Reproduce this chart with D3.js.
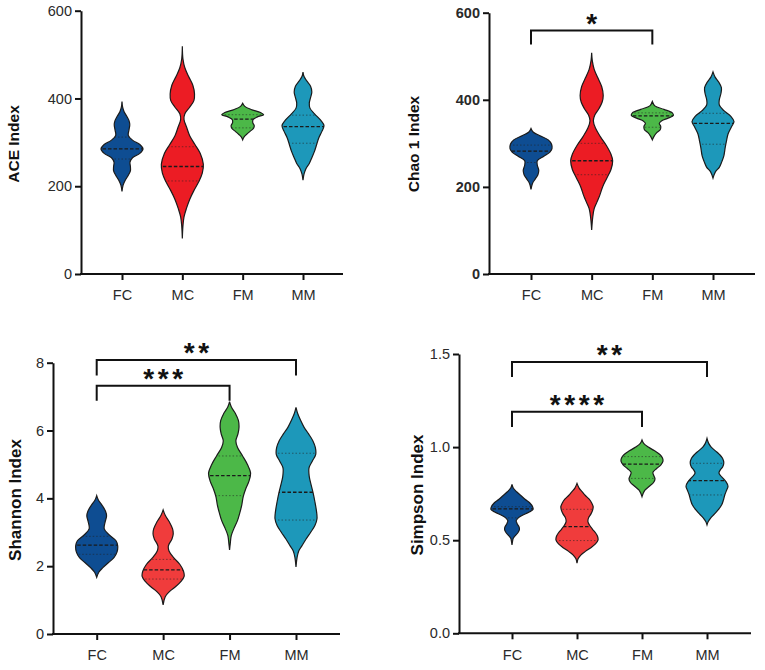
<!DOCTYPE html>
<html lang="en">
<head>
    <meta charset="UTF-8">
    <title>Alpha diversity violins</title>
    <style>
        body {
            margin: 0;
            padding: 0;
            background-color: #ffffff;
            font-family: "Liberation Sans", Arial, sans-serif;
        }
        .tick text {
            font-size: 14.5px;
            fill: #2a2a2a;
        }
        .axis-label {
            font-weight: bold;
            fill: #111;
            text-anchor: middle;
        }
        .star {
            font-weight: bold;
            font-size: 28px;
            fill: #111;
            text-anchor: middle;
        }
    </style>
</head>
<body>
    <div id="chart"></div>

    <script src="https://d3js.org/d3.v7.min.js"></script>
    <script>
        // groups and fill colours
        const categories = ["FC", "MC", "FM", "MM"];
        const colorsTop = ["#0e4d92", "#ec1c24", "#4cb848", "#1d98ba"];
        const colorsBottom = ["#0e4d92", "#f03c3c", "#4cb848", "#1d98ba"];

        // violin outlines: [value, relative half-width]
        const aceFC = [[393,0],[380,0.03],[370,0.1],[360,0.22],[350,0.33],[340,0.37],[328,0.33],[316,0.3],[305,0.5],[295,0.85],[285,1],[275,0.85],[265,0.5],[255,0.38],[245,0.4],[235,0.4],[225,0.3],[214,0.16],[202,0.05],[188,0]];
        const aceMC = [[519,0],[490,0.03],[470,0.12],[450,0.3],[430,0.5],[410,0.58],[395,0.55],[380,0.35],[365,0.12],[352,0.08],[335,0.2],[315,0.35],[295,0.6],[275,0.85],[250,1],[230,0.95],[210,0.78],[190,0.55],[170,0.35],[150,0.2],[130,0.08],[110,0.03],[81,0]];
        const aceFM = [[389,0],[382,0.1],[375,0.4],[368,0.85],[363,1],[358,0.7],[352,0.5],[345,0.48],[338,0.55],[332,0.52],[325,0.35],[318,0.18],[312,0.06],[306,0]];
        const aceMM = [[460,0],[450,0.05],[440,0.18],[428,0.36],[415,0.42],[402,0.36],[390,0.3],[378,0.33],[365,0.55],[350,0.85],[338,1],[325,0.9],[310,0.75],[295,0.65],[280,0.55],[265,0.42],[252,0.3],[240,0.14],[228,0.05],[214,0]];

        const chaoFC = [[334,0],[326,0.1],[318,0.4],[308,0.82],[298,0.98],[288,1],[280,0.9],[270,0.6],[260,0.3],[250,0.3],[238,0.37],[228,0.33],[218,0.2],[208,0.07],[194,0]];
        const chaoMC = [[508,0],[490,0.03],[470,0.12],[450,0.3],[430,0.48],[410,0.55],[395,0.5],[380,0.35],[365,0.15],[352,0.08],[335,0.18],[315,0.42],[295,0.7],[275,0.92],[260,1],[240,0.92],[220,0.72],[200,0.52],[180,0.38],[165,0.25],[150,0.12],[130,0.05],[101,0]];
        const chaoFM = [[396,0],[386,0.12],[378,0.55],[370,0.95],[364,1],[358,0.75],[352,0.45],[346,0.33],[339,0.4],[332,0.38],[325,0.22],[316,0.08],[308,0]];
        const chaoMM = [[464,0],[452,0.1],[440,0.28],[428,0.4],[415,0.38],[400,0.3],[388,0.3],[375,0.52],[362,0.85],[350,1],[338,0.88],[322,0.72],[305,0.64],[290,0.58],[272,0.52],[258,0.42],[245,0.3],[235,0.12],[220,0]];

        const shanFC = [[4.08,0],[3.95,0.08],[3.8,0.25],[3.62,0.42],[3.48,0.47],[3.3,0.4],[3.1,0.36],[2.92,0.6],[2.75,0.92],[2.6,1],[2.42,0.97],[2.25,0.82],[2.1,0.55],[1.95,0.28],[1.82,0.1],[1.67,0]];
        const shanMC = [[3.66,0],[3.5,0.1],[3.3,0.3],[3.1,0.45],[2.95,0.48],[2.8,0.42],[2.6,0.25],[2.45,0.28],[2.25,0.5],[2.05,0.8],[1.85,0.97],[1.7,1],[1.55,0.85],[1.4,0.6],[1.25,0.3],[1.1,0.1],[0.86,0]];
        const shanFM = [[6.85,0],[6.7,0.08],[6.5,0.28],[6.3,0.42],[6.1,0.45],[5.9,0.4],[5.7,0.3],[5.5,0.38],[5.25,0.62],[5.0,0.85],[4.75,1],[4.5,0.92],[4.3,0.78],[4.05,0.65],[3.8,0.58],[3.6,0.5],[3.35,0.38],[3.1,0.2],[2.9,0.08],[2.65,0.03],[2.48,0]];
        const shanMM = [[6.68,0],[6.5,0.08],[6.3,0.22],[6.1,0.38],[5.9,0.6],[5.7,0.8],[5.5,0.92],[5.3,0.94],[5.1,0.78],[4.9,0.62],[4.65,0.63],[4.4,0.72],[4.15,0.82],[3.9,0.9],[3.6,0.98],[3.4,1],[3.2,0.9],[3.0,0.7],[2.8,0.48],[2.6,0.28],[2.45,0.13],[2.25,0.05],[1.98,0]];

        const simpFC = [[0.80,0],[0.78,0.06],[0.76,0.22],[0.74,0.42],[0.72,0.62],[0.70,0.85],[0.68,0.98],[0.665,1],[0.65,0.8],[0.635,0.52],[0.62,0.3],[0.605,0.2],[0.59,0.24],[0.57,0.34],[0.555,0.35],[0.54,0.28],[0.525,0.16],[0.51,0.06],[0.49,0.02],[0.475,0]];
        const simpMC = [[0.805,0],[0.78,0.1],[0.76,0.25],[0.74,0.4],[0.72,0.58],[0.70,0.7],[0.68,0.77],[0.66,0.74],[0.64,0.66],[0.62,0.55],[0.60,0.52],[0.58,0.6],[0.56,0.73],[0.54,0.88],[0.52,0.98],[0.50,1],[0.48,0.88],[0.46,0.66],[0.44,0.4],[0.42,0.18],[0.40,0.05],[0.376,0]];
        const simpFM = [[1.038,0],[1.02,0.08],[1.0,0.3],[0.98,0.6],[0.96,0.85],[0.94,0.98],[0.925,1],[0.905,0.9],[0.885,0.7],[0.865,0.52],[0.85,0.55],[0.83,0.62],[0.81,0.55],[0.79,0.35],[0.77,0.15],[0.75,0.05],[0.734,0]];
        const simpMM = [[1.047,0],[1.02,0.08],[1.0,0.2],[0.98,0.4],[0.96,0.6],[0.94,0.74],[0.915,0.8],[0.895,0.75],[0.875,0.62],[0.86,0.57],[0.84,0.7],[0.815,0.9],[0.79,1],[0.765,0.92],[0.74,0.84],[0.715,0.78],[0.69,0.7],[0.665,0.55],[0.64,0.35],[0.62,0.18],[0.6,0.06],[0.582,0]];

        // medians and quartiles per group (FC, MC, FM, MM)
        const aceMedian = [285, 245, 353, 336];
        const aceQ1 = [262, 212, 333, 298];
        const aceQ3 = [312, 290, 363, 362];
        const chaoMedian = [282, 260, 363, 346];
        const chaoQ1 = [256, 228, 337, 298];
        const chaoQ3 = [296, 300, 370, 369];
        const shanMedian = [2.62, 1.89, 4.67, 4.18];
        const shanQ1 = [2.35, 1.62, 4.08, 3.36];
        const shanQ3 = [2.88, 2.2, 5.25, 5.33];
        const simpMedian = [0.668, 0.573, 0.909, 0.82];
        const simpQ1 = [0.62, 0.498, 0.832, 0.743];
        const simpQ3 = [0.68, 0.666, 0.949, 0.913];

        // tick values
        const aceTicks = [0, 200, 400, 600];
        const chaoTicks = [0, 200, 400, 600];
        const shanTicks = [0, 2, 4, 6, 8];
        const simpTicks = [0, 0.5, 1.0, 1.5];

        // significance brackets: [from, to, bar value, drop value, stars]
        const chaoBrackets = [["FC", "FM", 559, 527, "*"]];
        const shanBrackets = [["FC", "MM", 8.08, 7.62, "**"], ["FC", "FM", 7.32, 6.88, "***"]];
        const simpBrackets = [["FC", "MM", 1.457, 1.377, "**"], ["FC", "FM", 1.19, 1.108, "****"]];

        const panels = [
            { label: "ACE Index", profiles: [aceFC, aceMC, aceFM, aceMM], med: aceMedian, q1: aceQ1, q3: aceQ3,
              ticks: aceTicks, fmt: d3.format("d"), max: 600, brackets: [], colors: colorsTop, boldTicks: false,
              axisX: 81, xEnd: 343, xFirst: 122, xLast: 303, y0: 274, yTop: 10.7, labelX: 13.5, labelY: 144, labelSize: 15.5 },
            { label: "Chao 1 Index", profiles: [chaoFC, chaoMC, chaoFM, chaoMM], med: chaoMedian, q1: chaoQ1, q3: chaoQ3,
              ticks: chaoTicks, fmt: d3.format("d"), max: 600, brackets: chaoBrackets, colors: colorsTop, boldTicks: true,
              axisX: 489, xEnd: 755, xFirst: 531, xLast: 713, y0: 274, yTop: 12.7, labelX: 413.5, labelY: 144, labelSize: 15.5 },
            { label: "Shannon Index", profiles: [shanFC, shanMC, shanFM, shanMM], med: shanMedian, q1: shanQ1, q3: shanQ3,
              ticks: shanTicks, fmt: d3.format("d"), max: 8, brackets: shanBrackets, colors: colorsBottom, boldTicks: false,
              axisX: 53, xEnd: 340, xFirst: 96.7, xLast: 296, y0: 634, yTop: 362.7, labelX: 15.5, labelY: 500, labelSize: 17 },
            { label: "Simpson Index", profiles: [simpFC, simpMC, simpFM, simpMM], med: simpMedian, q1: simpQ1, q3: simpQ3,
              ticks: simpTicks, fmt: d3.format(".1f"), max: 1.5, brackets: simpBrackets, colors: colorsBottom, boldTicks: false,
              axisX: 459, xEnd: 751, xFirst: 512, xLast: 707, y0: 633.3, yTop: 354, labelX: 417, labelY: 495, labelSize: 17 }
        ];

        const svg = d3.select("#chart")
            .append("svg")
            .attr("width", 765)
            .attr("height", 670);

        const halfWidth = d3.scaleLinear().domain([0, 1]).range([0, 21]);

        panels.forEach((p, pi) => {
            const g = svg.append("g");
            const y = d3.scaleLinear().domain([0, p.max]).range([p.y0, p.yTop]);
            const x = d3.scalePoint().domain(categories).range([p.xFirst, p.xLast]);

            // violins
            p.profiles.forEach((prof, i) => {
                const cx = x(categories[i]);
                const area = d3.area()
                    .y(d => y(d[0]))
                    .x0(d => cx - halfWidth(d[1]))
                    .x1(d => cx + halfWidth(d[1]))
                    .curve(d3.curveCatmullRom.alpha(0.5));
                const clipId = `clip-${pi}-${i}`;
                g.append("clipPath").attr("id", clipId)
                    .append("path").attr("d", area(prof));

                g.append("path")
                    .attr("d", area(prof))
                    .attr("fill", p.colors[i])
                    .attr("stroke", "#1b1b1b")
                    .attr("stroke-width", 1.2);

                const lines = g.append("g").attr("clip-path", `url(#${clipId})`);
                [p.q1[i], p.q3[i]].forEach(v => {
                    lines.append("line")
                        .attr("x1", cx - 25).attr("x2", cx + 25)
                        .attr("y1", y(v)).attr("y2", y(v))
                        .attr("stroke", "#222").attr("stroke-opacity", 0.55)
                        .attr("stroke-width", 1).attr("stroke-dasharray", "1.5,2");
                });
                lines.append("line")
                    .attr("x1", cx - 25).attr("x2", cx + 25)
                    .attr("y1", y(p.med[i])).attr("y2", y(p.med[i]))
                    .attr("stroke", "#1a1a1a").attr("stroke-width", 1.3)
                    .attr("stroke-dasharray", "3.5,2");
            });

            // y axis
            const yAxis = g.append("g")
                .attr("transform", `translate(${p.axisX},0)`)
                .call(d3.axisLeft(y).tickValues(p.ticks).tickFormat(p.fmt)
                    .tickSize(6).tickSizeOuter(0).tickPadding(3));
            yAxis.select(".domain").attr("stroke", "#111").attr("stroke-width", 2);
            yAxis.selectAll(".tick line").attr("stroke", "#111").attr("stroke-width", 2);
            yAxis.selectAll(".tick text").attr("font-weight", p.boldTicks ? "bold" : "normal")
                .attr("fill", p.boldTicks ? "#111" : "#2a2a2a");

            // x axis
            const xAxis = g.append("g")
                .attr("transform", `translate(0,${p.y0})`)
                .call(d3.axisBottom(x).tickSize(6).tickPadding(10));
            xAxis.select(".domain").remove();
            xAxis.selectAll(".tick line").attr("stroke", "#111").attr("stroke-width", 2);
            g.append("line")
                .attr("x1", p.axisX - 1).attr("x2", p.xEnd)
                .attr("y1", p.y0).attr("y2", p.y0)
                .attr("stroke", "#111").attr("stroke-width", 2);

            // axis title
            g.append("text")
                .attr("class", "axis-label")
                .attr("font-size", p.labelSize)
                .attr("transform", `translate(${p.labelX},${p.labelY}) rotate(-90)`)
                .attr("dy", "0.35em")
                .text(p.label);

            // significance brackets
            p.brackets.forEach(b => {
                const xa = x(b[0]), xb = x(b[1]);
                const yb = y(b[2]), yd = y(b[3]);
                g.append("path")
                    .attr("d", d3.line()([[xa, yd], [xa, yb], [xb, yb], [xb, yd]]))
                    .attr("fill", "none").attr("stroke", "#111").attr("stroke-width", 2);
                const n = b[4].length;
                const mid = (xa + xb) / 2;
                for (let k = 0; k < n; k++) {
                    g.append("text")
                        .attr("class", "star")
                        .attr("x", mid + (k - (n - 1) / 2) * 14.5)
                        .attr("y", yb + 2)
                        .text("*");
                }
            });
        });
    </script>
</body>
</html>
